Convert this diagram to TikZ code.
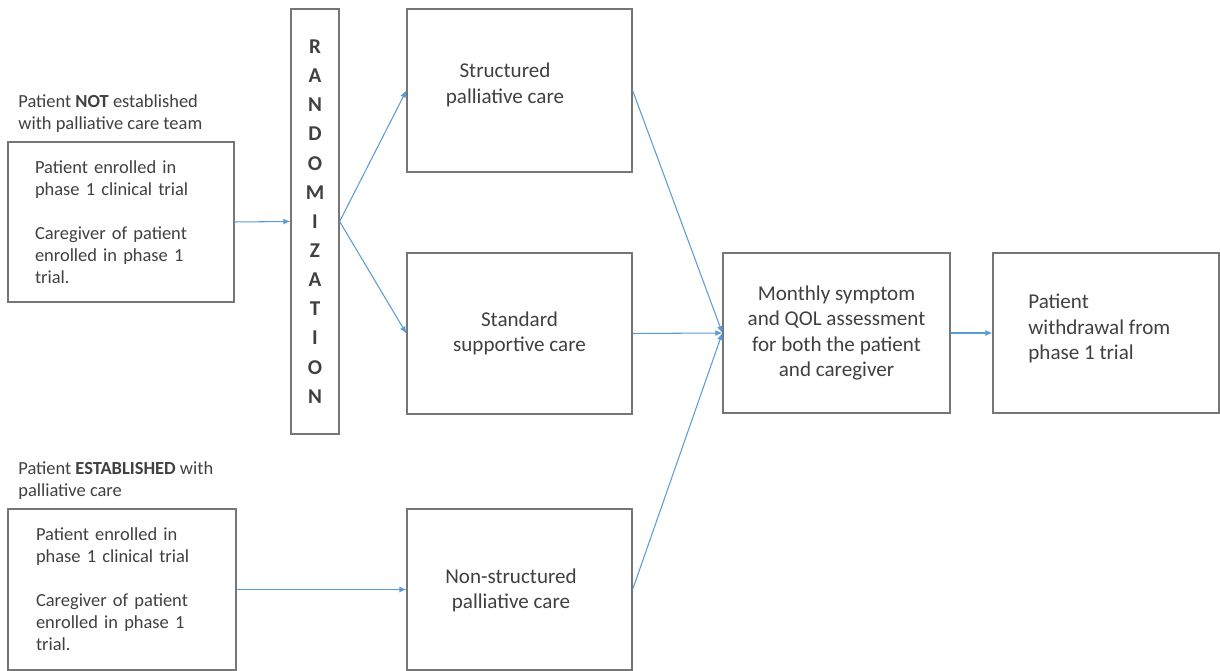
\documentclass[tikz,border=0pt]{standalone}
\usepackage{fontspec}
\setmainfont{Carlito}
\usetikzlibrary{arrows.meta,positioning}
\definecolor{boxgray}{RGB}{118,118,118}
\definecolor{linkblue}{RGB}{91,155,213}
\definecolor{txtgray}{RGB}{64,64,64}

\begin{document}
\begin{tikzpicture}[x=0.02cm,y=-0.02cm,
    box/.style={draw=boxgray,line width=0.75pt,inner sep=0pt},
    smalltxt/.style={font=\fontsize{10.5}{12.5}\selectfont,text=txtgray,align=left},
    bigtxt/.style={font=\fontsize{12}{14.5}\selectfont,text=txtgray,align=center},
    link/.style={linkblue,line width=0.6pt,-{Latex[length=4pt,width=3.4pt]}}]
        \useasboundingbox (0,0) rectangle (1220,671);
        % Patients not established
        \node[smalltxt,anchor=west,inner sep=0pt] (nothead) at (18,114) {Patient \textbf{NOT} established\\with palliative care team};
        \node[box,smalltxt,minimum width=4.52cm,minimum height=3.2cm,text width=3.44cm,inner xsep=0.54cm] (notest) at (121,222) {Patient enrolled in\\phase 1 clinical trial\\[\baselineskip]Caregiver of patient\\enrolled in phase 1\\trial.};
        % Patients established
        \node[smalltxt,anchor=west,inner sep=0pt] (esthead) at (18,481) {Patient \textbf{ESTABLISHED} with\\palliative care};
        \node[box,smalltxt,minimum width=4.56cm,minimum height=3.22cm,text width=3.44cm,inner xsep=0.56cm] (est) at (122,589.5) {Patient enrolled in\\phase 1 clinical trial\\[\baselineskip]Caregiver of patient\\enrolled in phase 1\\trial.};
        % randomization column
        \node[box,minimum width=0.96cm,minimum height=8.5cm,font=\fontsize{12}{16.6}\selectfont\bfseries,text=txtgray,align=center] (rand) at (315,221.5) {R\\A\\N\\D\\O\\M\\I\\Z\\A\\T\\I\\O\\N};
        % care arms
        \node[box,minimum width=4.5cm,minimum height=3.26cm] (struct) at (519.5,90.5) {};
        \node[bigtxt] (structtxt) at (505,85) {Structured\\palliative care};
        \node[box,bigtxt,minimum width=4.5cm,minimum height=3.22cm] (std) at (519.5,333.5) {Standard\\supportive care};
        \node[box,minimum width=4.5cm,minimum height=3.22cm] (nonst) at (519.5,589.5) {};
        \node[bigtxt] (nonsttxt) at (511,590.5) {Non-structured\\palliative care};
        % assessment and withdrawal
        \node[box,bigtxt,minimum width=4.54cm,minimum height=3.2cm] (month) at (836.5,333) {Monthly symptom\\and QOL assessment\\for both the patient\\and caregiver};
        \node[box,minimum width=4.52cm,minimum height=3.2cm] (withdr) at (1106,333) {};
        \node[bigtxt,align=left,anchor=west,inner sep=0pt] (withdrtxt) at (1028,328.5) {Patient\\withdrawal from\\phase 1 trial};
        % arrows
        \draw[link] (notest.east) -- (rand.west);
        \draw[link] (rand.east) -- (struct.west);
        \draw[link] (rand.east) -- (std.west);
        \draw[link] (est.east) -- (nonst.west);
        \draw[link] (struct.east) -- (month.west);
        \draw[link] (std.east) -- (month.west);
        \draw[link] (nonst.east) -- (month.west);
        \draw[link] (month.east) -- (withdr.west);
\end{tikzpicture}
\end{document}
